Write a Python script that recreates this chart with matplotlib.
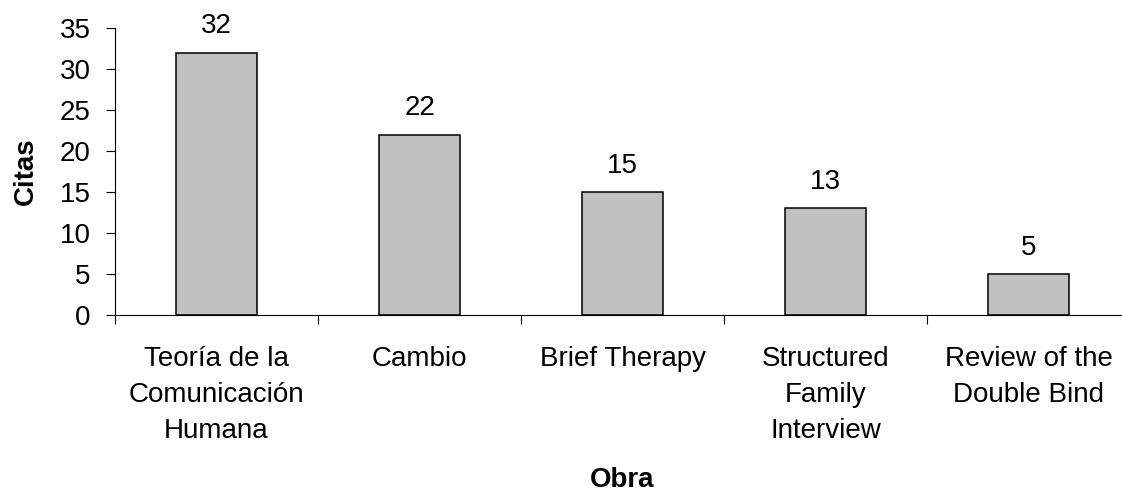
import numpy as np
import matplotlib
matplotlib.use("Agg")
import matplotlib.pyplot as plt

plt.rcParams['font.family'] = ['Liberation Sans', 'DejaVu Sans']

# Citas por obra
obras = ['Teoría de la\nComunicación\nHumana', 'Cambio', 'Brief Therapy',
         'Structured\nFamily\nInterview', 'Review of the\nDouble Bind']
citas = [32, 22, 15, 13, 5]
yticks = [0, 5, 10, 15, 20, 25, 30, 35]

fig = plt.figure(figsize=(11.22, 4.93), dpi=100)
ax = fig.add_axes([115 / 1122, 1 - 315 / 493, (1130 - 115) / 1122, (315 - 28) / 493])

x = np.arange(len(obras))
bars = ax.bar(x, citas, width=0.4, color='#C0C0C0', edgecolor='black', linewidth=1.1)

for xi, v in zip(x, citas):
    ax.text(xi, v + 1.6, str(v), ha='center', va='bottom', fontsize=20)

ax.set_xlim(-0.5, len(obras) - 0.5)
ax.set_ylim(0, 35)
ax.set_yticks(yticks)
ax.set_xticks(x)
ax.set_xticklabels(obras, fontsize=20)
for t in ax.get_xticklabels():
    t.set_linespacing(1.5)
ax.set_xticks(np.arange(len(obras) + 1) - 0.5, minor=True)
ax.tick_params(axis='x', which='major', length=0, pad=22)
ax.tick_params(axis='x', which='minor', length=6.5, width=0.8, direction='out')
ax.tick_params(axis='y', length=6.5, width=0.8, labelsize=20, pad=11)

ax.spines['top'].set_visible(False)
ax.spines['right'].set_visible(False)
ax.spines['left'].set_linewidth(0.8)
ax.spines['bottom'].set_linewidth(0.8)

ax.set_ylabel('Citas', fontsize=20, fontweight='bold', labelpad=15)
ax.set_xlabel('Obra', fontsize=20, fontweight='bold', labelpad=17)

fig.savefig('out.png', dpi=100)
